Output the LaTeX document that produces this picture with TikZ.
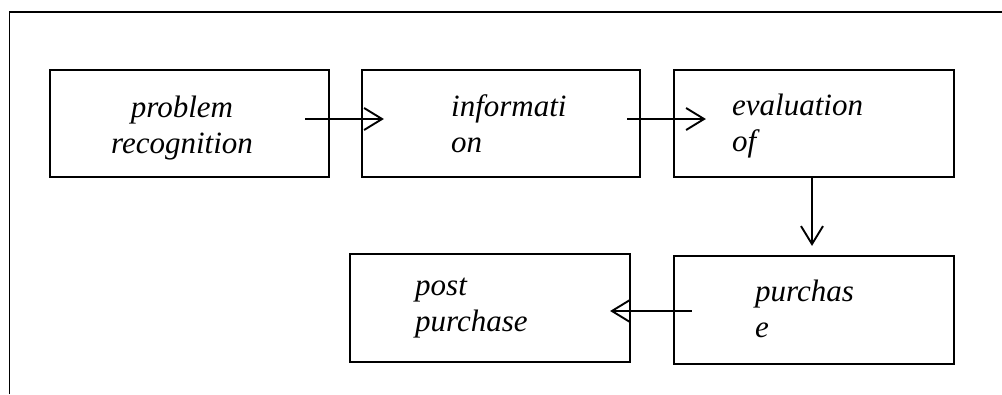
\documentclass[tikz,border=0pt]{standalone}
\usepackage{fontspec}
\setmainfont{Liberation Serif}
\usetikzlibrary{arrows.meta}
\begin{document}
\begin{tikzpicture}[x=1pt,y=-1pt,
  stage/.style={draw=black,line width=2.2pt,rectangle,inner sep=0pt},
  label/.style={inner sep=0pt,anchor=base west,align=left,font=\fontsize{31}{36}\selectfont\itshape},
  flow/.style={line width=1.9pt,-{Straight Barb[length=18pt,width=22pt,line width=1.9pt]}},
  frame/.style={line width=1.8pt}]
\useasboundingbox (0,0) rectangle (1002,394);
% frame
\coordinate (fl) at (9.5,394);
\coordinate (ftl) at (9.5,12);
\coordinate (ftr) at (1002,12);
\draw[frame] (fl) -- (ftl) -- (ftr);
% boxes
\node[stage,minimum width=279pt,minimum height=107pt] (b1) at (189.5,123.5) {};
\node[stage,minimum width=278pt,minimum height=107pt] (b2) at (501,123.5) {};
\node[stage,minimum width=280pt,minimum height=107pt] (b3) at (814,123.5) {};
\node[stage,minimum width=280pt,minimum height=108pt] (b4) at (814,310) {};
\node[stage,minimum width=280pt,minimum height=108pt] (b5) at (490,308) {};
% texts
\node[label,anchor=base,align=center] (t1) at (182,153) {problem\\recognition};
\node[label] (t2) at (451,152) {informati\\on};
\node[label] (t3) at (732,151) {evaluation\\of};
\node[label] (t4) at (755,337) {purchas\\e};
\node[label] (t5) at (415,331) {post\\purchase};
% connectors
\coordinate (s4) at ([xshift=19pt,yshift=-1pt]b4.west);
\coordinate (e4) at ([xshift=-21pt]b5.east);
\draw[flow] ([xshift=-25pt,yshift=4.5pt]b1.east) -- ([xshift=23pt,yshift=4.5pt]b2.west);
\draw[flow] ([xshift=-14pt,yshift=4.5pt]b2.east) -- ([xshift=33pt,yshift=4.5pt]b3.west);
\draw[flow] ([xshift=-2pt]b3.south) -- ([xshift=-2pt,yshift=9pt]b4.north);
\draw[flow] (s4) -- (s4 -| e4);
\end{tikzpicture}
\end{document}
